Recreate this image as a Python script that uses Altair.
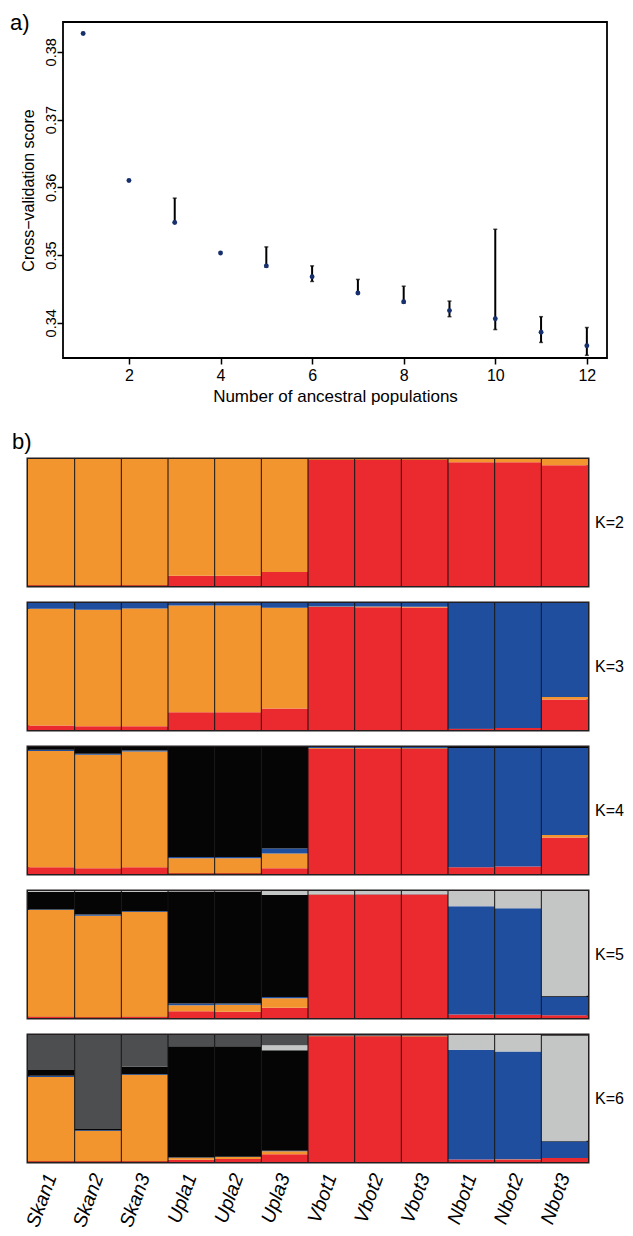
import altair as alt
import pandas as pd

# ---------------- panel a: cross-validation ----------------
k_values = [1, 2, 3, 4, 5, 6, 7, 8, 9, 10, 11, 12]
cv_mean = [0.3827, 0.3610, 0.3548, 0.3503, 0.3484, 0.3468,
           0.3444, 0.3431, 0.3418, 0.3406, 0.3386, 0.3366]
err_k = [3, 5, 6, 7, 8, 9, 10, 11, 12]
err_low = [0.3548, 0.3482, 0.3461, 0.3443, 0.3429, 0.3409, 0.3390, 0.3371, 0.3352]
err_high = [0.3584, 0.3512, 0.3484, 0.3464, 0.3454, 0.3432, 0.3538, 0.3409, 0.3393]
x_ticks = [2, 4, 6, 8, 10, 12]
y_ticks = [0.34, 0.35, 0.36, 0.37, 0.38]
x_domain = [0.56, 12.44]
y_domain = [0.3348, 0.3844]

# ---------------- panel b: admixture proportions ----------------
pops = ["Skan1", "Skan2", "Skan3", "Upla1", "Upla2", "Upla3",
        "Vbot1", "Vbot2", "Vbot3", "Nbot1", "Nbot2", "Nbot3"]
components = ["red", "orange", "blue", "black", "lightgray", "darkgray"]
comp_colors = ["#EA2A2E", "#F3952F", "#1F4E9F", "#050505", "#C4C5C5", "#4D4E50"]

K2_red = [0.005, 0.005, 0.005, 0.08, 0.08, 0.11, 0.995, 0.995, 0.995, 0.975, 0.975, 0.95]
K2_orange = [0.995, 0.995, 0.995, 0.92, 0.92, 0.89, 0.005, 0.005, 0.005, 0.025, 0.025, 0.05]

K3_red = [0.035, 0.030, 0.030, 0.140, 0.140, 0.170, 0.968, 0.967, 0.965, 0.010, 0.015, 0.240]
K3_orange = [0.919, 0.916, 0.927, 0.840, 0.840, 0.792, 0.005, 0.005, 0.005, 0.0, 0.0, 0.020]
K3_blue = [0.046, 0.054, 0.043, 0.020, 0.020, 0.038, 0.027, 0.028, 0.030, 0.990, 0.985, 0.740]

K4_red = [0.054, 0.046, 0.054, 0.005, 0.005, 0.046, 0.987, 0.987, 0.985, 0.054, 0.060, 0.288]
K4_orange = [0.914, 0.893, 0.910, 0.120, 0.120, 0.116, 0.005, 0.005, 0.005, 0.0, 0.0, 0.019]
K4_blue = [0.010, 0.008, 0.008, 0.008, 0.008, 0.038, 0.008, 0.008, 0.010, 0.938, 0.932, 0.685]
K4_black = [0.022, 0.053, 0.028, 0.867, 0.867, 0.800, 0.0, 0.0, 0.0, 0.008, 0.008, 0.008]

K5_red = [0.010, 0.005, 0.010, 0.054, 0.050, 0.080, 0.970, 0.972, 0.972, 0.027, 0.025, 0.022]
K5_orange = [0.840, 0.800, 0.825, 0.046, 0.055, 0.076, 0.005, 0.003, 0.003, 0.0, 0.0, 0.0]
K5_blue = [0.005, 0.010, 0.005, 0.014, 0.010, 0.010, 0.003, 0.003, 0.003, 0.853, 0.840, 0.146]
K5_black = [0.137, 0.177, 0.152, 0.881, 0.880, 0.802, 0.0, 0.0, 0.0, 0.0, 0.0, 0.008]
K5_lightgray = [0.008, 0.008, 0.008, 0.005, 0.005, 0.032, 0.022, 0.022, 0.022, 0.120, 0.135, 0.824]

K6_red = [0.005, 0.005, 0.005, 0.017, 0.024, 0.062, 0.990, 0.990, 0.988, 0.020, 0.020, 0.032]
K6_orange = [0.664, 0.240, 0.680, 0.016, 0.016, 0.022, 0.003, 0.003, 0.004, 0.0, 0.002, 0.0]
K6_blue = [0.010, 0.005, 0.005, 0.003, 0.002, 0.005, 0.002, 0.002, 0.003, 0.864, 0.848, 0.130]
K6_black = [0.046, 0.010, 0.060, 0.876, 0.870, 0.790, 0.0, 0.0, 0.0, 0.0, 0.0, 0.005]
K6_lightgray = [0.0, 0.0, 0.0, 0.0, 0.0, 0.041, 0.003, 0.003, 0.003, 0.116, 0.130, 0.828]
K6_darkgray = [0.275, 0.740, 0.250, 0.088, 0.088, 0.080, 0.002, 0.002, 0.002, 0.0, 0.0, 0.005]

K_sets = {
    2: [K2_red, K2_orange],
    3: [K3_red, K3_orange, K3_blue],
    4: [K4_red, K4_orange, K4_blue, K4_black],
    5: [K5_red, K5_orange, K5_blue, K5_black, K5_lightgray],
    6: [K6_red, K6_orange, K6_blue, K6_black, K6_lightgray, K6_darkgray],
}

FONT = "Liberation Sans"

# ---------------- build panel a ----------------
A_W, A_H = 579, 336      # plot area shares its left edge with panel b
A_SHIFT = 35             # frame of panel a starts this far right of panel b

df_a = pd.DataFrame({"k": k_values, "cv": cv_mean})
df_err = pd.DataFrame({"k": err_k, "lo": err_low, "hi": err_high})

xs = alt.Scale(domain=x_domain, range=[A_SHIFT, A_W], nice=False, zero=False)
ys = alt.Scale(domain=y_domain, nice=False, zero=False)

x_axis = alt.Axis(values=x_ticks, title="Number of ancestral populations", grid=False,
                  domain=False, tickSize=6, tickWidth=1.5, tickColor="black",
                  labelFont=FONT, labelFontSize=16, labelColor="black", labelPadding=3,
                  labelFlush=False, titleFont=FONT, titleFontSize=17,
                  titleFontWeight="normal", titleColor="black", titlePadding=5,
                  titleX=A_SHIFT + (A_W - A_SHIFT) / 2)
y_axis = alt.Axis(values=y_ticks, format=".2f", title="Cross\u2212validation score", grid=False,
                  domain=False, tickSize=6, tickWidth=1.5, tickColor="black", offset=-A_SHIFT,
                  labelFont=FONT, labelFontSize=14.5, labelColor="black", labelAngle=270,
                  labelAlign="center", labelBaseline="alphabetic", labelPadding=2,
                  titleFont=FONT, titleFontSize=16, titleFontWeight="normal",
                  titleColor="black", titlePadding=7)

frame = alt.Chart(pd.DataFrame({"f": [0]})).mark_rect(
    fillOpacity=0, stroke="black", strokeWidth=1.8
).encode(
    x=alt.datum(x_domain[0], scale=xs, axis=x_axis),
    x2=alt.datum(x_domain[1]),
    y=alt.datum(y_domain[0], scale=ys, axis=y_axis),
    y2=alt.datum(y_domain[1]),
)
err_rule = alt.Chart(df_err).mark_rule(color="black", strokeWidth=2).encode(
    x=alt.X("k:Q", scale=xs, axis=x_axis),
    y=alt.Y("lo:Q", scale=ys, axis=y_axis),
    y2="hi:Q",
)
cap_lo = alt.Chart(df_err).mark_tick(orient="horizontal", size=4, thickness=1.5, color="black").encode(
    x=alt.X("k:Q", scale=xs), y=alt.Y("lo:Q", scale=ys))
cap_hi = alt.Chart(df_err).mark_tick(orient="horizontal", size=4, thickness=1.5, color="black").encode(
    x=alt.X("k:Q", scale=xs), y=alt.Y("hi:Q", scale=ys))
pts = alt.Chart(df_a).mark_circle(size=24, color="#16306e", opacity=1).encode(
    x=alt.X("k:Q", scale=xs), y=alt.Y("cv:Q", scale=ys))
lab_a = alt.Chart(pd.DataFrame({"t": ["a)"]})).mark_text(
    align="left", baseline="alphabetic", font=FONT, fontSize=22, color="black"
).encode(x=alt.value(-18), y=alt.value(8), text="t:N")

panel_a = alt.layer(frame, err_rule, cap_lo, cap_hi, pts, lab_a).properties(
    width=A_W, height=A_H,
    view=alt.ViewBackground(strokeWidth=0, fill="white"),
)

# ---------------- build panel b ----------------
W, H = 560, 127


def make_panel(k, show_axis, first):
    rows = []
    for ci, vals in enumerate(K_sets[k]):
        for p, v in zip(pops, vals):
            rows.append({"pop": p, "comp": components[ci], "ord": ci, "val": v})
    df = pd.DataFrame(rows)
    xsc = alt.Scale(domain=pops, paddingInner=0, paddingOuter=0)
    if show_axis:
        xax = alt.Axis(title=None, domain=False, ticks=False, labelAngle=290,
                       labelFont=FONT, labelFontStyle="italic", labelFontSize=19.5,
                       labelColor="black", labelPadding=12)
    else:
        xax = None
    bars = alt.Chart(df).mark_bar(stroke=None).encode(
        x=alt.X("pop:N", sort=pops, scale=xsc, axis=xax),
        y=alt.Y("val:Q", stack="zero", scale=alt.Scale(domain=[0, 1], nice=False), axis=None),
        color=alt.Color("comp:N", scale=alt.Scale(domain=components, range=comp_colors), legend=None),
        order=alt.Order("ord:Q", sort="ascending"),
    )
    seps = alt.Chart(pd.DataFrame({"pop": pops[1:]})).mark_rule(color="#111111", strokeWidth=1).encode(
        x=alt.X("pop:N", sort=pops, scale=xsc, bandPosition=0),
        y=alt.datum(0),
        y2=alt.datum(1),
    )
    klab = alt.Chart(pd.DataFrame({"t": [f"K={k}"]})).mark_text(
        align="left", baseline="middle", font=FONT, fontSize=16, color="black"
    ).encode(x=alt.value(W + 7), y=alt.value(H / 2), text="t:N")
    layers = [bars, seps, klab]
    if first:
        blab = alt.Chart(pd.DataFrame({"t": ["b)"]})).mark_text(
            align="left", baseline="alphabetic", font=FONT, fontSize=22, color="black"
        ).encode(x=alt.value(-16), y=alt.value(-10.5), text="t:N")
        layers.append(blab)
    return alt.layer(*layers).properties(
        width=W, height=H,
        view=alt.ViewBackground(stroke="#231F20", strokeWidth=3, fill="white"),
    )


b_panels = [make_panel(k, k == 6, k == 2) for k in [2, 3, 4, 5, 6]]
b_group = alt.vconcat(*b_panels, spacing=13)

chart = alt.vconcat(panel_a, b_group, spacing=25).properties(
    padding={"left": 10, "top": 12, "right": 0, "bottom": 0},
    background="white",
)

chart.save("out.html", embed_options={"renderer": "svg", "actions": False})
